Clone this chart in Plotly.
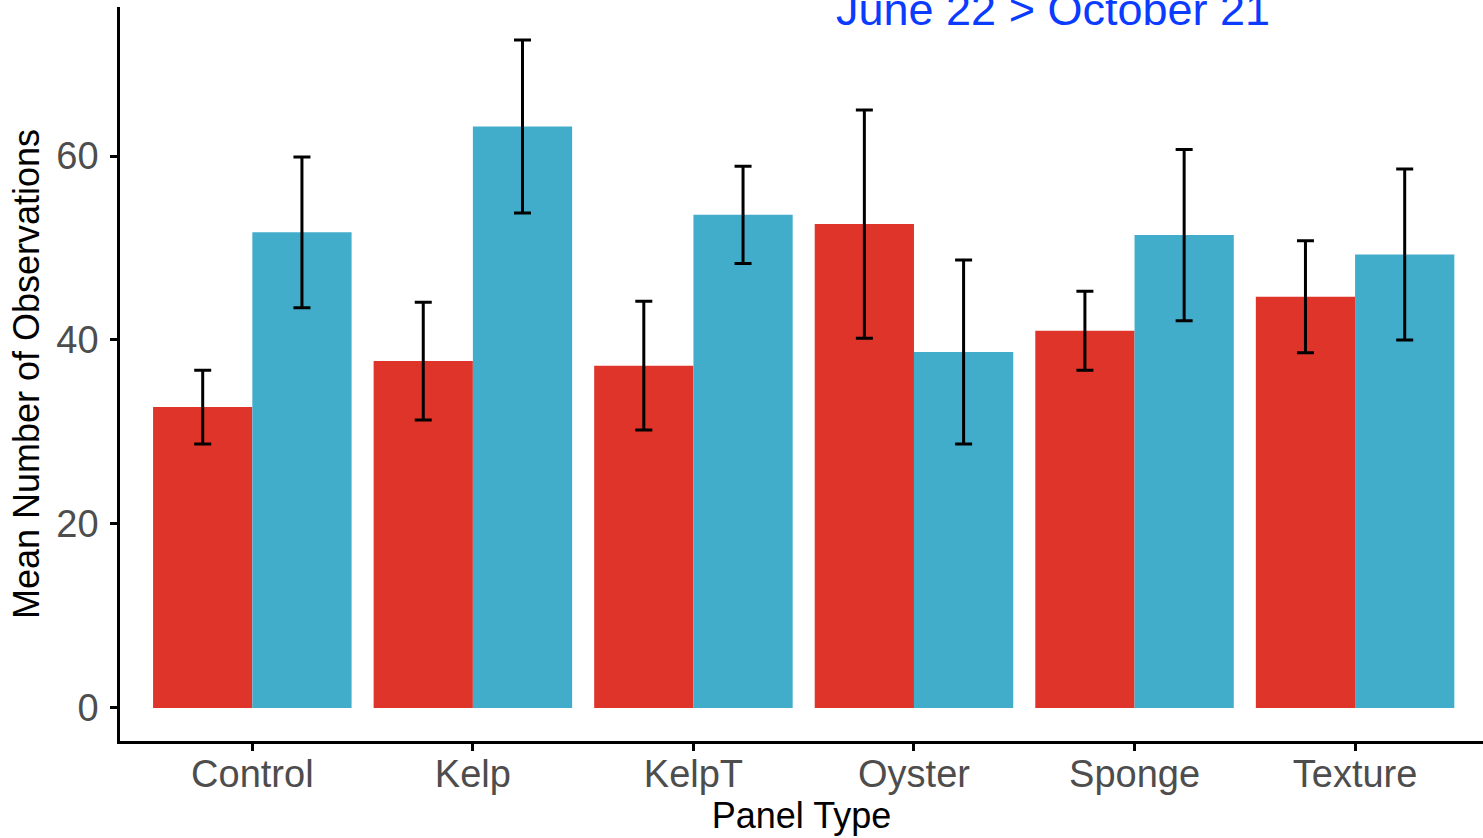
import plotly.graph_objects as go

# Mean observations per panel type for the two survey periods
panel_types = ["Control", "Kelp", "KelpT", "Oyster", "Sponge", "Texture"]
early_mean = [32.7, 37.7, 37.2, 52.6, 41.0, 44.7]
early_se = [4.0, 6.4, 7.0, 12.4, 4.3, 6.1]
late_mean = [51.7, 63.2, 53.6, 38.7, 51.4, 49.3]
late_se = [8.2, 9.4, 5.3, 10.0, 9.3, 9.3]

red = "#DE3429"
blue = "#42ACCB"

err_style = dict(type="data", visible=True, color="black", thickness=3, width=8.5)

fig = go.Figure()
fig.add_trace(go.Bar(
    x=panel_types, y=early_mean, marker_color=red, marker_line_width=0,
    error_y=dict(array=early_se, **err_style), showlegend=False,
))
fig.add_trace(go.Bar(
    x=panel_types, y=late_mean, marker_color=blue, marker_line_width=0,
    error_y=dict(array=late_se, **err_style), showlegend=False,
))

axis_font = dict(family="Liberation Sans, Arial, sans-serif", size=38, color="#4D4D4D")
title_font = dict(family="Liberation Sans, Arial, sans-serif", size=36, color="black")

fig.update_layout(
    width=1483, height=838,
    margin=dict(l=120, r=0, t=7, b=97),
    paper_bgcolor="white", plot_bgcolor="white",
    barmode="group", bargap=0.1, bargroupgap=0,
    xaxis=dict(
        range=[-0.6, 5.58], showline=True, linecolor="black", linewidth=2.5,
        ticks="outside", ticklen=7, tickwidth=2.5, tickcolor="black",
        tickfont=axis_font, showgrid=False, zeroline=False,
        ticklabelstandoff=-9,
        title=dict(text="Panel Type", font=title_font, standoff=6),
    ),
    yaxis=dict(
        range=[-3.6, 76.2], showline=True, linecolor="black", linewidth=2.5,
        ticks="outside", ticklen=7, tickwidth=2.5, tickcolor="black",
        tickvals=[0, 20, 40, 60], tickfont=axis_font, showgrid=False, zeroline=False,
        ticklabelstandoff=4,
        title=dict(text="Mean Number of Observations", font=title_font, standoff=6),
    ),
    annotations=[dict(
        text="June 22 > October 21", xref="paper", yref="paper",
        x=0.6845, y=0.997, xanchor="center", yanchor="middle", showarrow=False,
        font=dict(family="Liberation Sans, Arial, sans-serif", size=45, color="#0B3BFF"),
    )],
)

fig.write_html("out.html")
